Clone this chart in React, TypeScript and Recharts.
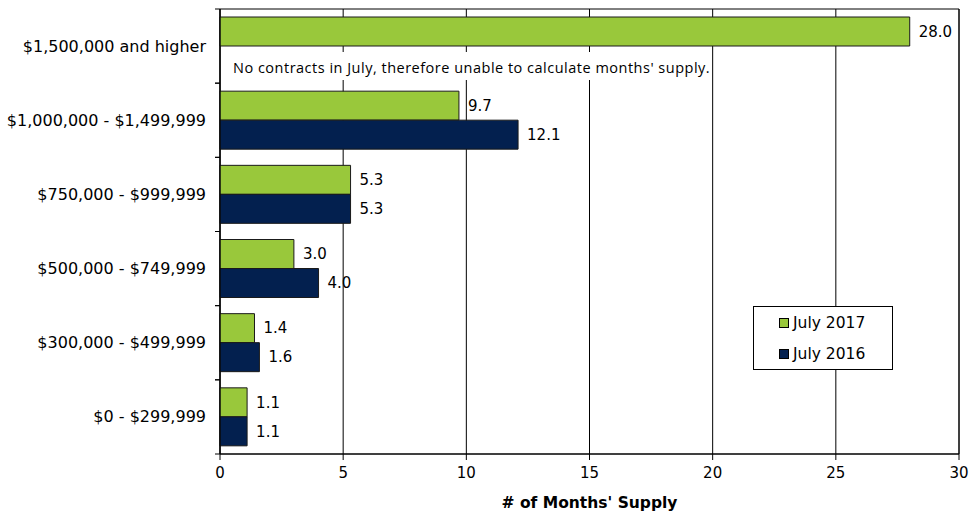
import React from "react";
import {
  BarChart,
  Bar,
  XAxis,
  YAxis,
  CartesianGrid,
  LabelList,
  ReferenceArea,
} from "recharts";

const categories = [
  "$1,500,000 and higher",
  "$1,000,000 - $1,499,999",
  "$750,000 - $999,999",
  "$500,000 - $749,999",
  "$300,000 - $499,999",
  "$0 - $299,999",
];
const july2017 = [28.0, 9.7, 5.3, 3.0, 1.4, 1.1];
const july2016: (number | null)[] = [null, 12.1, 5.3, 4.0, 1.6, 1.1];
const xTicks = [0, 5, 10, 15, 20, 25, 30];
const note = "No contracts in July, therefore unable to calculate months' supply.";

const series = [
  { key: "july2017", name: "July 2017", color: "#99C83B" },
  { key: "july2016", name: "July 2016", color: "#03204F" },
];

const data = categories.map((name, i) => ({
  name,
  july2017: july2017[i],
  july2016: july2016[i],
}));

const FONT = "'DejaVu Sans', sans-serif";
const TICK_MARGIN = 14;

function CategoryTick(props: any) {
  const { x, y, payload } = props;
  const axisX = x + TICK_MARGIN;
  const half = payload.offset > 0 ? payload.offset : 74.2 / 2;
  return (
    <g>
      <line x1={axisX - 5} x2={axisX} y1={y - half} y2={y - half} stroke="#000" />
      <line x1={axisX - 5} x2={axisX} y1={y + half} y2={y + half} stroke="#000" />
      <text
        x={x}
        y={y}
        textAnchor="end"
        dominantBaseline="central"
        fontFamily={FONT}
        fontSize={16}
        fill="#000"
      >
        {payload.value}
      </text>
    </g>
  );
}

const fmt = (v: any) => (typeof v === "number" ? v.toFixed(1) : "");

export default function App() {
  return (
    <div style={{ position: "absolute", left: 0, top: 0, width: 970, height: 511, background: "#fff" }}>
      <BarChart
        layout="vertical"
        width={970}
        height={511}
        data={data}
        margin={{ top: 9, right: 11, left: 0, bottom: 7 }}
        barSize={29}
        barGap={0}
      >
        <CartesianGrid horizontal={false} stroke="#000" />
        <ReferenceArea x1={0} x2={30} fill="none" stroke="#000" ifOverflow="visible" />
        <XAxis
          type="number"
          domain={[0, 30]}
          ticks={xTicks}
          height={50}
          tickSize={6}
          tickMargin={7}
          stroke="#000"
          tick={{ fill: "#000", fontSize: 15, fontFamily: FONT }}
          label={{
            value: "# of Months' Supply",
            position: "insideBottom",
            offset: -4,
            fill: "#000",
            fontSize: 15.5,
            fontWeight: "bold",
            fontFamily: FONT,
          }}
        />
        <YAxis
          type="category"
          dataKey="name"
          width={220}
          tickLine={false}
          tickSize={0}
          tickMargin={TICK_MARGIN}
          stroke="#000"
          tick={<CategoryTick />}
        />
        {series.map((s) => (
          <Bar
            key={s.key}
            dataKey={s.key}
            name={s.name}
            fill={s.color}
            stroke="#1a1a1a"
            strokeWidth={1}
            isAnimationActive={false}
          >
            <LabelList
              dataKey={s.key}
              position="right"
              offset={9}
              formatter={fmt}
              fill="#000"
              fontSize={15}
              fontFamily={FONT}
            />
          </Bar>
        ))}
      </BarChart>
      <div
        style={{
          position: "absolute",
          left: 233,
          top: 52,
          paddingTop: 6,
          paddingBottom: 2,
          paddingRight: 2,
          lineHeight: "20px",
          background: "#fff",
          fontFamily: "'Open Sans', sans-serif",
          fontSize: 14.5,
          whiteSpace: "nowrap",
          letterSpacing: 0.5,
          color: "#000",
        }}
      >
        {note}
      </div>
      <div
        style={{
          position: "absolute",
          left: 753,
          top: 306,
          width: 138,
          height: 62,
          border: "1px solid #000",
          background: "#fff",
          fontFamily: FONT,
          fontSize: 15.5,
          color: "#000",
        }}
      >
        {series.map((s, i) => (
          <div
            key={s.key}
            style={{ position: "absolute", left: 25, top: 6 + i * 31, display: "flex", alignItems: "center", height: 20 }}
          >
            <span
              style={{
                display: "inline-block",
                width: 8,
                height: 8,
                background: s.color,
                border: "1px solid #000",
                marginRight: 4,
              }}
            />
            {s.name}
          </div>
        ))}
      </div>
    </div>
  );
}
